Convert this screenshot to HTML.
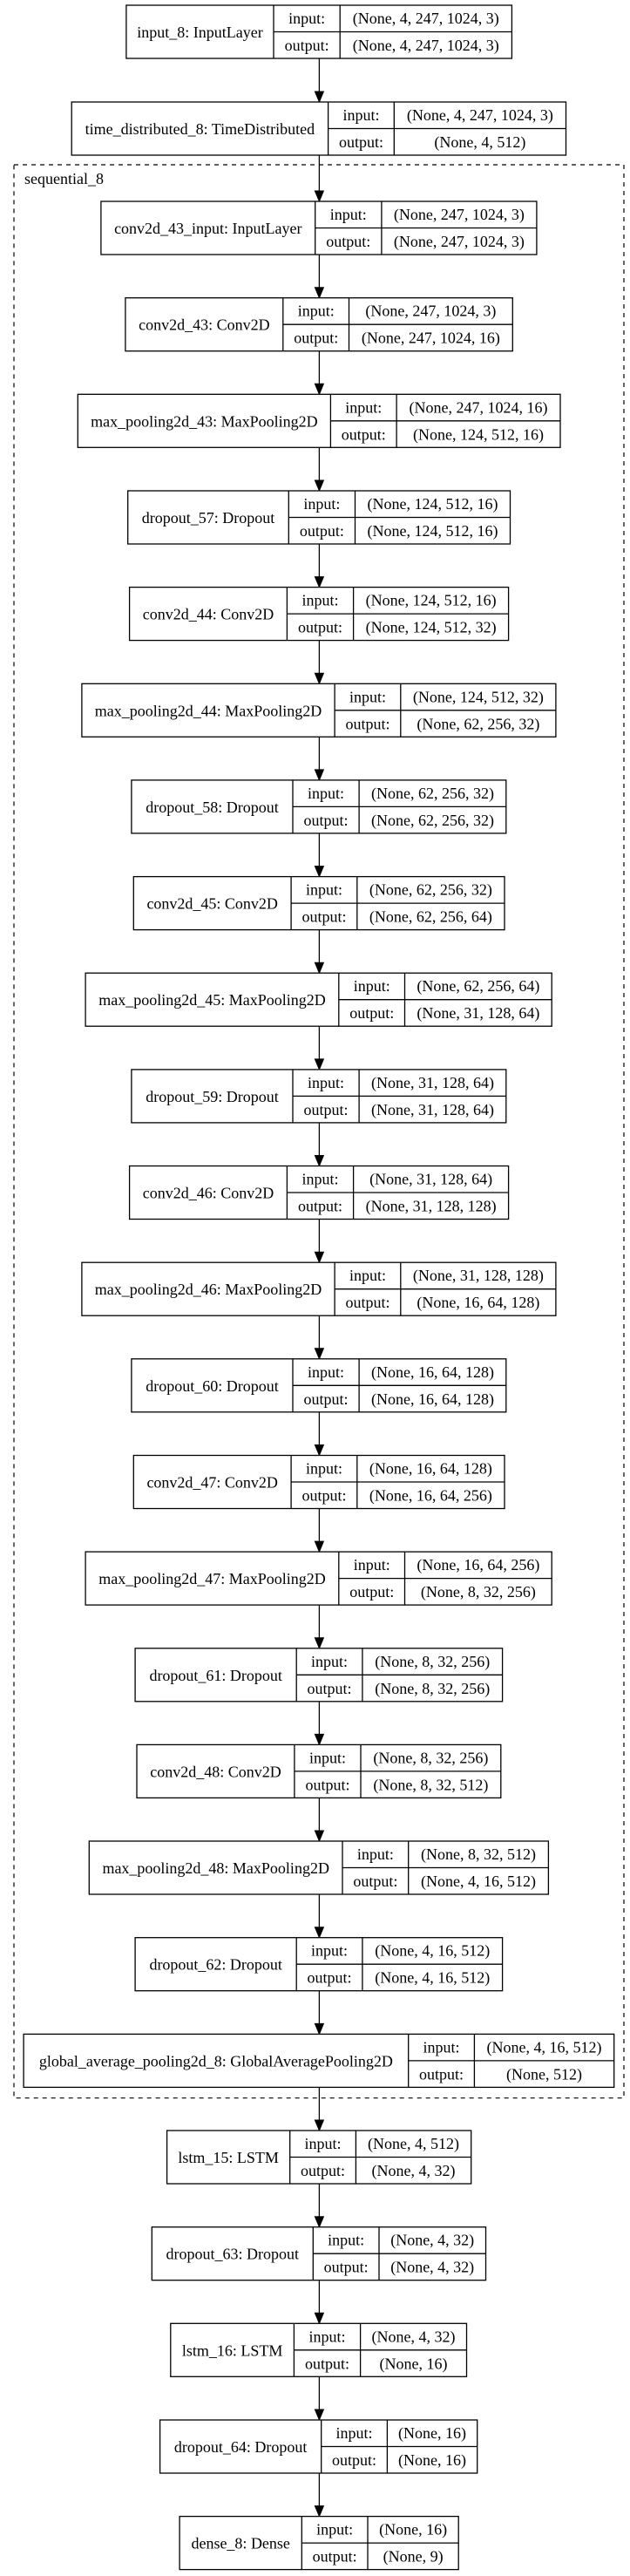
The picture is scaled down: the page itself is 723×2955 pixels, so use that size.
<!DOCTYPE html>
<html><head><meta charset="utf-8"><style>
html,body{margin:0;padding:0;background:#fff;}
svg{display:block;}
text{font-family:"Liberation Serif",serif;font-size:18px;fill:#000;text-anchor:middle;}
.b{fill:#fff;stroke:#000;stroke-width:1.3;}
.l{stroke:#000;stroke-width:1.3;fill:none;}
</style></head><body>
<svg width="723" height="2955" viewBox="0 0 723 2955" xmlns="http://www.w3.org/2000/svg">
<rect x="16" y="189" width="700" height="2217.7" fill="none" stroke="#000" stroke-width="1.2" stroke-dasharray="5,5"/>
<text x="28" y="211" style="text-anchor:start">sequential_8</text>

<!-- arrows -->
<g stroke="#000" stroke-width="1.3" fill="#000">
<path d="M366.4 67V105M366.4 178V219M366.4 292V330M366.4 402.7V440.3M366.4 513.3V551M366.4 624V661.6M366.4 734.6V772.3M366.4 845.3V882.9M366.4 955.9V993.6M366.4 1066.6V1104.2M366.4 1177.2V1214.9M366.4 1287.9V1325.5M366.4 1398.5V1436.2M366.4 1509.2V1546.8M366.4 1619.8V1657.5M366.4 1730.5V1768.1M366.4 1841.1V1878.8M366.4 1951.8V1989.4M366.4 2062.4V2100M366.4 2173V2210.7M366.4 2283.7V2321.4M366.4 2394.4V2432M366.4 2505V2542.7M366.4 2615.7V2653.3M366.4 2726.3V2764M366.4 2837V2874.6"/>
</g>
<g fill="#000" stroke="#000" stroke-width="1">
<path d="M361.4 105L371.4 105L366.4 117Z"/>
<path d="M361.4 219L371.4 219L366.4 231Z"/>
<path d="M361.4 329.7L371.4 329.7L366.4 341.7Z"/>
<path d="M361.4 440.3L371.4 440.3L366.4 452.3Z"/>
<path d="M361.4 551L371.4 551L366.4 563Z"/>
<path d="M361.4 661.6L371.4 661.6L366.4 673.6Z"/>
<path d="M361.4 772.3L371.4 772.3L366.4 784.3Z"/>
<path d="M361.4 882.9L371.4 882.9L366.4 894.9Z"/>
<path d="M361.4 993.6L371.4 993.6L366.4 1005.6Z"/>
<path d="M361.4 1104.2L371.4 1104.2L366.4 1116.2Z"/>
<path d="M361.4 1214.9L371.4 1214.9L366.4 1226.9Z"/>
<path d="M361.4 1325.5L371.4 1325.5L366.4 1337.5Z"/>
<path d="M361.4 1436.2L371.4 1436.2L366.4 1448.2Z"/>
<path d="M361.4 1546.8L371.4 1546.8L366.4 1558.8Z"/>
<path d="M361.4 1657.5L371.4 1657.5L366.4 1669.5Z"/>
<path d="M361.4 1768.1L371.4 1768.1L366.4 1780.1Z"/>
<path d="M361.4 1878.8L371.4 1878.8L366.4 1890.8Z"/>
<path d="M361.4 1989.4L371.4 1989.4L366.4 2001.4Z"/>
<path d="M361.4 2100L371.4 2100L366.4 2112Z"/>
<path d="M361.4 2210.7L371.4 2210.7L366.4 2222.7Z"/>
<path d="M361.4 2321.4L371.4 2321.4L366.4 2333.4Z"/>
<path d="M361.4 2432L371.4 2432L366.4 2444Z"/>
<path d="M361.4 2542.7L371.4 2542.7L366.4 2554.7Z"/>
<path d="M361.4 2653.3L371.4 2653.3L366.4 2665.3Z"/>
<path d="M361.4 2764L371.4 2764L366.4 2776Z"/>
<path d="M361.4 2874.6L371.4 2874.6L366.4 2886.6Z"/>
</g>

<!-- n1 -->
<g transform="translate(0,6)"><rect class="b" x="144.9" y="0" width="442.5" height="61"/><path class="l" d="M314 0V61M390.2 0V61M314 30.5H587.4"/>
<text x="229.5" y="37">input_8: InputLayer</text><text x="352.1" y="21">input:</text><text x="352.1" y="52">output:</text><text x="488.8" y="21">(None, 4, 247, 1024, 3)</text><text x="488.8" y="52">(None, 4, 247, 1024, 3)</text></g>
<!-- n2 -->
<g transform="translate(0,117)"><rect class="b" x="82.2" y="0" width="567.3" height="61"/><path class="l" d="M376.6 0V61M452.3 0V61M376.6 30.5H649.5"/>
<text x="229.4" y="37">time_distributed_8: TimeDistributed</text><text x="414.5" y="21">input:</text><text x="414.5" y="52">output:</text><text x="550.9" y="21">(None, 4, 247, 1024, 3)</text><text x="550.9" y="52">(None, 4, 512)</text></g>
<!-- n3 -->
<g transform="translate(0,231)"><rect class="b" x="115.9" y="0" width="500" height="61"/><path class="l" d="M361.7 0V61M437.9 0V61M361.7 30.5H615.9"/>
<text x="238.8" y="37">conv2d_43_input: InputLayer</text><text x="399.8" y="21">input:</text><text x="399.8" y="52">output:</text><text x="526.9" y="21">(None, 247, 1024, 3)</text><text x="526.9" y="52">(None, 247, 1024, 3)</text></g>
<!-- n4 -->
<g transform="translate(0,341.7)"><rect class="b" x="143.9" y="0" width="444.4" height="61"/><path class="l" d="M324.8 0V61M400.5 0V61M324.8 30.5H588.3"/>
<text x="234.4" y="37">conv2d_43: Conv2D</text><text x="362.7" y="21">input:</text><text x="362.7" y="52">output:</text><text x="494.4" y="21">(None, 247, 1024, 3)</text><text x="494.4" y="52">(None, 247, 1024, 16)</text></g>
<!-- n5 -->
<g transform="translate(0,452.3)"><rect class="b" x="89.3" y="0" width="553.7" height="61"/><path class="l" d="M379.4 0V61M455.1 0V61M379.4 30.5H643"/>
<text x="234.4" y="37">max_pooling2d_43: MaxPooling2D</text><text x="417.3" y="21">input:</text><text x="417.3" y="52">output:</text><text x="549" y="21">(None, 247, 1024, 16)</text><text x="549" y="52">(None, 124, 512, 16)</text></g>
<!-- n6 -->
<g transform="translate(0,563)"><rect class="b" x="146.7" y="0" width="438.8" height="61"/><path class="l" d="M331.3 0V61M407.5 0V61M331.3 30.5H585.5"/>
<text x="239" y="37">dropout_57: Dropout</text><text x="369.4" y="21">input:</text><text x="369.4" y="52">output:</text><text x="496.5" y="21">(None, 124, 512, 16)</text><text x="496.5" y="52">(None, 124, 512, 16)</text></g>
<!-- n7 -->
<g transform="translate(0,673.6)"><rect class="b" x="148.6" y="0" width="435" height="61"/><path class="l" d="M329.4 0V61M405.6 0V61M329.4 30.5H583.6"/>
<text x="239" y="37">conv2d_44: Conv2D</text><text x="367.5" y="21">input:</text><text x="367.5" y="52">output:</text><text x="494.6" y="21">(None, 124, 512, 16)</text><text x="494.6" y="52">(None, 124, 512, 32)</text></g>
<!-- n8 -->
<g transform="translate(0,784.3)"><rect class="b" x="93.9" y="0" width="544" height="61"/><path class="l" d="M384.1 0V61M459.8 0V61M384.1 30.5H637.9"/>
<text x="239" y="37">max_pooling2d_44: MaxPooling2D</text><text x="422" y="21">input:</text><text x="422" y="52">output:</text><text x="548.9" y="21">(None, 124, 512, 32)</text><text x="548.9" y="52">(None, 62, 256, 32)</text></g>
<!-- n9 -->
<g transform="translate(0,894.9)"><rect class="b" x="150.9" y="0" width="429.9" height="61"/><path class="l" d="M336 0V61M412.1 0V61M336 30.5H580.8"/>
<text x="243.5" y="37">dropout_58: Dropout</text><text x="374" y="21">input:</text><text x="374" y="52">output:</text><text x="496.5" y="21">(None, 62, 256, 32)</text><text x="496.5" y="52">(None, 62, 256, 32)</text></g>
<!-- n10 -->
<g transform="translate(0,1005.6)"><rect class="b" x="153.3" y="0" width="425.7" height="61"/><path class="l" d="M334.1 0V61M409.8 0V61M334.1 30.5H579"/>
<text x="243.7" y="37">conv2d_45: Conv2D</text><text x="372" y="21">input:</text><text x="372" y="52">output:</text><text x="494.4" y="21">(None, 62, 256, 32)</text><text x="494.4" y="52">(None, 62, 256, 64)</text></g>
<!-- n11 -->
<g transform="translate(0,1116.2)"><rect class="b" x="98.1" y="0" width="535.1" height="61"/><path class="l" d="M388.8 0V61M464.5 0V61M388.8 30.5H633.2"/>
<text x="243.5" y="37">max_pooling2d_45: MaxPooling2D</text><text x="426.7" y="21">input:</text><text x="426.7" y="52">output:</text><text x="548.9" y="21">(None, 62, 256, 64)</text><text x="548.9" y="52">(None, 31, 128, 64)</text></g>
<!-- n12 -->
<g transform="translate(0,1226.9)"><rect class="b" x="150.9" y="0" width="429.9" height="61"/><path class="l" d="M336 0V61M412.1 0V61M336 30.5H580.8"/>
<text x="243.5" y="37">dropout_59: Dropout</text><text x="374" y="21">input:</text><text x="374" y="52">output:</text><text x="496.5" y="21">(None, 31, 128, 64)</text><text x="496.5" y="52">(None, 31, 128, 64)</text></g>
<!-- n13 -->
<g transform="translate(0,1337.5)"><rect class="b" x="148.6" y="0" width="435" height="61"/><path class="l" d="M329.4 0V61M405.6 0V61M329.4 30.5H583.6"/>
<text x="239" y="37">conv2d_46: Conv2D</text><text x="367.5" y="21">input:</text><text x="367.5" y="52">output:</text><text x="494.6" y="21">(None, 31, 128, 64)</text><text x="494.6" y="52">(None, 31, 128, 128)</text></g>
<!-- n14 -->
<g transform="translate(0,1448.2)"><rect class="b" x="93.9" y="0" width="544" height="61"/><path class="l" d="M384.1 0V61M459.8 0V61M384.1 30.5H637.9"/>
<text x="239" y="37">max_pooling2d_46: MaxPooling2D</text><text x="422" y="21">input:</text><text x="422" y="52">output:</text><text x="548.9" y="21">(None, 31, 128, 128)</text><text x="548.9" y="52">(None, 16, 64, 128)</text></g>
<!-- n15 -->
<g transform="translate(0,1558.8)"><rect class="b" x="150.9" y="0" width="429.9" height="61"/><path class="l" d="M336 0V61M412.1 0V61M336 30.5H580.8"/>
<text x="243.5" y="37">dropout_60: Dropout</text><text x="374" y="21">input:</text><text x="374" y="52">output:</text><text x="496.5" y="21">(None, 16, 64, 128)</text><text x="496.5" y="52">(None, 16, 64, 128)</text></g>
<!-- n16 -->
<g transform="translate(0,1669.5)"><rect class="b" x="153.3" y="0" width="425.7" height="61"/><path class="l" d="M334.1 0V61M409.8 0V61M334.1 30.5H579"/>
<text x="243.7" y="37">conv2d_47: Conv2D</text><text x="372" y="21">input:</text><text x="372" y="52">output:</text><text x="494.4" y="21">(None, 16, 64, 128)</text><text x="494.4" y="52">(None, 16, 64, 256)</text></g>
<!-- n17 -->
<g transform="translate(0,1780.1)"><rect class="b" x="98.1" y="0" width="535.1" height="61"/><path class="l" d="M388.8 0V61M464.5 0V61M388.8 30.5H633.2"/>
<text x="243.5" y="37">max_pooling2d_47: MaxPooling2D</text><text x="426.7" y="21">input:</text><text x="426.7" y="52">output:</text><text x="548.9" y="21">(None, 16, 64, 256)</text><text x="548.9" y="52">(None, 8, 32, 256)</text></g>
<!-- n18 -->
<g transform="translate(0,1890.8)"><rect class="b" x="155.1" y="0" width="421.5" height="61"/><path class="l" d="M340.2 0V61M415.9 0V61M340.2 30.5H576.6"/>
<text x="247.7" y="37">dropout_61: Dropout</text><text x="378" y="21">input:</text><text x="378" y="52">output:</text><text x="496.3" y="21">(None, 8, 32, 256)</text><text x="496.3" y="52">(None, 8, 32, 256)</text></g>
<!-- n19 -->
<g transform="translate(0,2001.4)"><rect class="b" x="157" y="0" width="417.8" height="61"/><path class="l" d="M337.9 0V61M414 0V61M337.9 30.5H574.8"/>
<text x="247.5" y="37">conv2d_48: Conv2D</text><text x="376" y="21">input:</text><text x="376" y="52">output:</text><text x="494.4" y="21">(None, 8, 32, 256)</text><text x="494.4" y="52">(None, 8, 32, 512)</text></g>
<!-- n20 -->
<g transform="translate(0,2112)"><rect class="b" x="102.3" y="0" width="527.1" height="61"/><path class="l" d="M393 0V61M468.7 0V61M393 30.5H629.4"/>
<text x="247.7" y="37">max_pooling2d_48: MaxPooling2D</text><text x="430.9" y="21">input:</text><text x="430.9" y="52">output:</text><text x="549" y="21">(None, 8, 32, 512)</text><text x="549" y="52">(None, 4, 16, 512)</text></g>
<!-- n21 -->
<g transform="translate(0,2222.7)"><rect class="b" x="155.1" y="0" width="421.5" height="61"/><path class="l" d="M340.2 0V61M415.9 0V61M340.2 30.5H576.6"/>
<text x="247.7" y="37">dropout_62: Dropout</text><text x="378" y="21">input:</text><text x="378" y="52">output:</text><text x="496.3" y="21">(None, 4, 16, 512)</text><text x="496.3" y="52">(None, 4, 16, 512)</text></g>
<!-- n22 -->
<g transform="translate(0,2333.4)"><rect class="b" x="27.1" y="0" width="677.6" height="61"/><path class="l" d="M468.7 0V61M544.4 0V61M468.7 30.5H704.7"/>
<text x="247.9" y="37">global_average_pooling2d_8: GlobalAveragePooling2D</text><text x="506.5" y="21">input:</text><text x="506.5" y="52">output:</text><text x="624.5" y="21">(None, 4, 16, 512)</text><text x="624.5" y="52">(None, 512)</text></g>
<!-- n23 -->
<g transform="translate(0,2444)"><rect class="b" x="191.6" y="0" width="349.1" height="61"/><path class="l" d="M332.7 0V61M408.4 0V61M332.7 30.5H540.7"/>
<text x="262.1" y="37">lstm_15: LSTM</text><text x="370.5" y="21">input:</text><text x="370.5" y="52">output:</text><text x="474.5" y="21">(None, 4, 512)</text><text x="474.5" y="52">(None, 4, 32)</text></g>
<!-- n24 -->
<g transform="translate(0,2554.7)"><rect class="b" x="174.3" y="0" width="383.2" height="61"/><path class="l" d="M359.3 0V61M435 0V61M359.3 30.5H557.5"/>
<text x="266.8" y="37">dropout_63: Dropout</text><text x="397.1" y="21">input:</text><text x="397.1" y="52">output:</text><text x="496.2" y="21">(None, 4, 32)</text><text x="496.2" y="52">(None, 4, 32)</text></g>
<!-- n25 -->
<g transform="translate(0,2665.3)"><rect class="b" x="195.8" y="0" width="339.7" height="61"/><path class="l" d="M337.4 0V61M413.6 0V61M337.4 30.5H535.5"/>
<text x="266.6" y="37">lstm_16: LSTM</text><text x="375.5" y="21">input:</text><text x="375.5" y="52">output:</text><text x="474.5" y="21">(None, 4, 32)</text><text x="474.5" y="52">(None, 16)</text></g>
<!-- n26 -->
<g transform="translate(0,2776)"><rect class="b" x="183.6" y="0" width="364.1" height="61"/><path class="l" d="M368.7 0V61M444.4 0V61M368.7 30.5H547.7"/>
<text x="276.1" y="37">dropout_64: Dropout</text><text x="406.5" y="21">input:</text><text x="406.5" y="52">output:</text><text x="496" y="21">(None, 16)</text><text x="496" y="52">(None, 16)</text></g>
<!-- n27 -->
<g transform="translate(0,2886.6)"><rect class="b" x="206.1" y="0" width="320.1" height="61"/><path class="l" d="M346.3 0V61M422 0V61M346.3 30.5H526.2"/>
<text x="276.2" y="37">dense_8: Dense</text><text x="384.1" y="21">input:</text><text x="384.1" y="52">output:</text><text x="474.1" y="21">(None, 16)</text><text x="474.1" y="52">(None, 9)</text></g>
</svg>
</body></html>
